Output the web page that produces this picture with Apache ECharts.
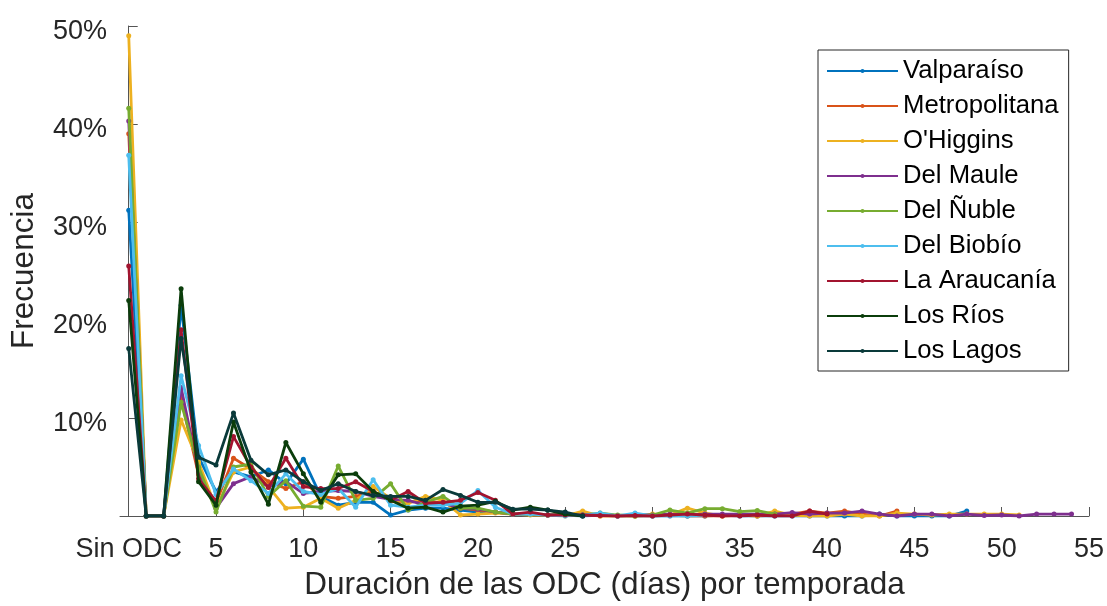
<!DOCTYPE html>
<html>
<head>
<meta charset="utf-8">
<title>Duración de las ODC por temporada</title>
<script src="https://cdn.jsdelivr.net/npm/echarts@6/dist/echarts.min.js"></script>
<style>
  html, body { margin: 0; padding: 0; background: #ffffff; }
  #chart { width: 1107px; height: 606px; }
</style>
</head>
<body>
<div id="chart"></div>
<script>
// Frecuencia (%) por duración de las ODC; índice 0 = "Sin ODC", luego 1, 2, 3 ... días
const regiones = ['Valparaíso', 'Metropolitana', "O'Higgins", 'Del Maule', 'Del Ñuble',
  'Del Biobío', 'La Araucanía', 'Los Ríos', 'Los Lagos'];

const valparaiso = [31.2, 0, 0, 21.5, 6.0, 2.5, 4.5, 4.0, 4.7, 3.3, 5.8, 2.0, 1.1, 1.4, 1.4, 0.1,
  0.6, 0.8, 0.8, 0.6, 0.4, 0.4, 0.2, 0.2, 0.1, 0.1, 0, 0.1, 0, 0, 0, 0, 0, 0, 0.1, 0, 0, 0, 0, 0,
  0, 0, 0, 0.2, 0, 0, 0, 0, 0.5];
const metropolitana = [39.0, 0, 0, 12.0, 4.2, 1.3, 5.9, 4.8, 3.5, 2.8, 3.5, 2.0, 1.8, 2.0, 2.5, 1.5,
  1.4, 1.6, 1.3, 0.8, 0.6, 0.4, 0.2, 0.2, 0.1, 0.1, 0.2, 0, 0, 0, 0, 0.1, 0, 0, 0, 0.1, 0, 0.1, 0.2,
  0.5, 0.3, 0.5, 0.2, 0, 0.5];
const ohiggins = [49.0, 0, 0, 9.8, 5.5, 0.8, 4.5, 5.0, 3.0, 0.8, 0.9, 1.8, 0.8, 1.6, 3.0, 1.8,
  1.3, 2.0, 1.6, 0.1, 0.2, 0.3, 0.2, 0.1, 0.1, 0, 0.5, 0, 0, 0, 0.2, 0.1, 0.8, 0.3, 0, 0.1, 0, 0.5,
  0.1, 0, 0, 0.2, 0, 0, 0.3, 0.2, 0.1, 0.2, 0.2, 0.2, 0.2, 0.1];
const delMaule = [40.3, 0, 0, 13.1, 4.5, 0.8, 3.3, 4.0, 3.0, 3.5, 2.3, 2.5, 2.6, 2.5, 2.0, 1.7,
  1.6, 1.1, 1.3, 0.8, 0.7, 0.4, 0.2, 0.2, 0.1, 0.1, 0.1, 0.1, 0, 0.1, 0.1, 0.2, 0.1, 0.2, 0.2, 0.2,
  0.2, 0.2, 0.35, 0.2, 0.3, 0.3, 0.5, 0.2, 0, 0.2, 0.2, 0, 0.2, 0.05, 0.1, 0, 0.2, 0.2, 0.2];
const delNuble = [41.6, 0, 0, 11.6, 5.0, 0.4, 5.0, 5.3, 2.0, 3.6, 1.0, 0.9, 5.1, 1.6, 1.8, 3.3,
  0.6, 1.4, 2.0, 0.8, 0.8, 0.4, 0.2, 0.2, 0.1, 0.1, 0.1, 0.3, 0.1, 0, 0.1, 0.6, 0.3, 0.75, 0.75,
  0.45, 0.55, 0.2];
const delBiobio = [36.8, 0, 0, 14.3, 7.2, 2.2, 4.8, 3.6, 2.3, 4.3, 2.5, 2.2, 2.8, 0.9, 3.7, 1.1,
  0.9, 1.1, 1.1, 1.3, 2.6, 0.9, 0.2, 0.2, 0.1, 0, 0.1, 0.3, 0, 0.3, 0, 0.05, 0, 0.1];
const laAraucania = [25.5, 0, 0, 19.0, 3.8, 1.5, 8.1, 5.0, 2.9, 5.9, 3.0, 2.8, 2.8, 3.5, 2.5, 1.6,
  2.5, 1.3, 1.4, 1.6, 2.4, 1.6, 0.2, 0.4, 0.1, 0.1, 0.1, 0.05, 0, 0.05, 0, 0.1, 0.2, 0.1, 0, 0, 0.1,
  0, 0, 0.5, 0.2];
const losRios = [22.0, 0, 0, 23.2, 3.5, 1.1, 9.6, 4.5, 1.2, 7.5, 4.3, 1.4, 4.2, 4.3, 2.5, 1.6,
  0.8, 0.9, 0.4, 1.0, 1.1, 1.5, 0.6, 0.9, 0.6, 0.2, 0];
const losLagos = [17.1, 0, 0, 18.1, 6.0, 5.2, 10.5, 5.7, 4.2, 4.7, 3.5, 2.6, 3.3, 2.5, 2.1, 2.0,
  2.0, 1.6, 2.7, 2.1, 1.4, 1.4, 0.7, 0.7, 0.6, 0.4, 0];

const valores = [valparaiso, metropolitana, ohiggins, delMaule, delNuble,
  delBiobio, laAraucania, losRios, losLagos];
const colores = ['#0072BD', '#D95319', '#EDB120', '#7E2F8E', '#77AC30',
  '#4DBEEE', '#A2142F', '#0B3D0B', '#0A3A3A'];

const ticksX = [0, 5, 10, 15, 20, 25, 30, 35, 40, 45, 50, 55];
const etiquetaCero = 'Sin ODC';

const fuente = "'Liberation Sans', Arial, Helvetica, sans-serif";
const tinta = '#262626';
const ejeColor = '#555555';

const series = regiones.map((nombre, k) => ({
  name: nombre,
  type: 'line',
  data: valores[k].map((v, i) => [i, v]),
  symbol: 'circle',
  symbolSize: 5,
  showSymbol: true,
  lineStyle: { width: 2.8, color: colores[k] },
  itemStyle: { color: colores[k] },
  emphasis: { disabled: true },
  z: 2 + k
}));

const chart = echarts.init(document.getElementById('chart'), null, { renderer: 'canvas' });
chart.setOption({
  animation: false,
  backgroundColor: '#ffffff',
  textStyle: { fontFamily: fuente },
  grid: { left: 118, top: 26, width: 973, height: 491.5, containLabel: false },
  xAxis: {
    type: 'value',
    min: -0.5,
    max: 55,
    name: 'Duración de las ODC (días) por temporada',
    nameLocation: 'middle',
    nameGap: 53,
    nameTextStyle: { fontSize: 31.5, color: tinta, fontFamily: fuente },
    axisLine: { show: true, lineStyle: { color: ejeColor, width: 1 } },
    axisTick: { show: true, inside: true, length: 9, customValues: ticksX,
      lineStyle: { color: ejeColor, width: 1 } },
    axisLabel: { show: true, customValues: ticksX, margin: 20, fontSize: 27, color: tinta,
      fontFamily: fuente, formatter: v => (v === 0 ? etiquetaCero : String(v)) },
    splitLine: { show: false }
  },
  yAxis: {
    type: 'value',
    min: 0,
    max: 50,
    interval: 10,
    name: 'Frecuencia',
    nameLocation: 'middle',
    nameGap: 80,
    nameTextStyle: { fontSize: 31.5, color: tinta, fontFamily: fuente },
    axisLine: { show: true, lineStyle: { color: ejeColor, width: 1 } },
    axisTick: { show: true, inside: true, length: 9, lineStyle: { color: ejeColor, width: 1 } },
    axisLabel: { show: true, margin: 13, color: tinta, fontFamily: fuente,
      formatter: v => (v === 0 ? '' : '{p|' + v + '%}'),
      rich: { p: { fontSize: 27, color: tinta, fontFamily: fuente, padding: [12, 0, 0, 0] } } },
    splitLine: { show: false }
  },
  legend: {
    orient: 'vertical',
    left: 818,
    top: 50,
    data: regiones,
    selectedMode: false,
    itemWidth: 71,
    itemHeight: 5,
    itemGap: 9,
    padding: [8, 10, 7, 8],
    backgroundColor: '#ffffff',
    borderColor: tinta,
    borderWidth: 1,
    textStyle: { fontSize: 25.7, lineHeight: 26, color: '#000000', fontFamily: fuente }
  },
  series: series
});
</script>
</body>
</html>
